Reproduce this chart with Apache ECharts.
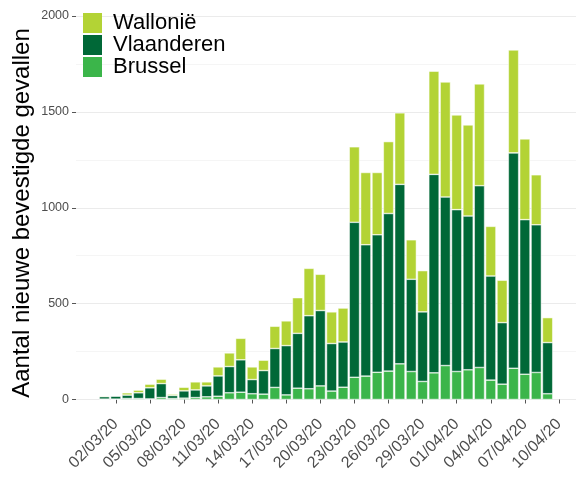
<!DOCTYPE html>
<html>
<head>
<meta charset="utf-8">
<script src="https://cdn.jsdelivr.net/npm/echarts@6/dist/echarts.min.js"></script>
<style>
html,body{margin:0;padding:0;background:#fff;}
#chart{width:581px;height:481px;}
</style>
</head>
<body>
<div id="chart"></div>
<script>
// Axis categories (days with data plus padding days on each side)
const padBefore = ['28/02/20', '29/02/20'];
const dates = [
  '01/03/20','02/03/20','03/03/20','04/03/20','05/03/20','06/03/20','07/03/20','08/03/20','09/03/20','10/03/20',
  '11/03/20','12/03/20','13/03/20','14/03/20','15/03/20','16/03/20','17/03/20','18/03/20','19/03/20','20/03/20',
  '21/03/20','22/03/20','23/03/20','24/03/20','25/03/20','26/03/20','27/03/20','28/03/20','29/03/20','30/03/20',
  '31/03/20','01/04/20','02/04/20','03/04/20','04/04/20','05/04/20','06/04/20','07/04/20','08/04/20','09/04/20'
];
const padAfter = ['10/04/20', '11/04/20'];
const tickLabels = ['02/03/20','05/03/20','08/03/20','11/03/20','14/03/20','17/03/20','20/03/20',
  '23/03/20','26/03/20','29/03/20','01/04/20','04/04/20','07/04/20','10/04/20'];

const brussel = [2,2,5,5,3,10,5,7,10,14, 17,35,38,30,28,63,24,59,56,71,
  44,64,116,122,142,148,186,146,94,139, 177,146,155,167,101,80,163,132,141,30];
const vlaanderen = [13,16,18,30,58,73,16,38,40,57, 106,137,169,74,123,203,257,286,381,393,
  248,236,808,685,717,822,936,481,363,1035, 879,844,802,948,543,321,1123,806,770,267];
const wallonie = [4,1,12,14,19,23,7,19,42,21, 47,71,112,66,54,116,129,186,247,189,
  165,177,394,377,325,375,373,206,215,538, 600,494,475,531,259,221,537,421,261,130];

const yTicks = [0, 500, 1000, 1500, 2000];
const yTitle = 'Aantal nieuwe bevestigde gevallen';

const categories = padBefore.concat(dates, padAfter);
function pad(arr) {
  return padBefore.map(() => null).concat(arr, padAfter.map(() => null));
}

const chart = echarts.init(document.getElementById('chart'), null, {renderer: 'canvas'});
const font = 'Liberation Sans, Arial, Helvetica, sans-serif';
const showTick = (idx) => tickLabels.indexOf(categories[idx]) >= 0;

const barStyle = (c) => ({color: c, borderColor: 'rgba(255,255,255,0.85)', borderWidth: 0.6});

chart.setOption({
  animation: false,
  textStyle: {fontFamily: font},
  grid: {left: 76, right: 5, top: 16, bottom: 81.5, containLabel: false},
  legend: {
    orient: 'vertical',
    left: 83, top: 12,
    padding: 0,
    itemWidth: 19, itemHeight: 20, itemGap: 0,
    icon: 'rect',
    data: ['Wallonië', 'Vlaanderen', 'Brussel'],
    textStyle: {fontSize: 22, lineHeight: 20, color: '#000', fontFamily: font, padding: [0,0,0,6]},
    itemStyle: {borderWidth: 0}
  },
  graphic: [{
    type: 'text',
    x: 22, y: 213,
    rotation: Math.PI / 2,
    style: {text: yTitle, fontSize: 24, fontFamily: font, fill: '#000', align: 'center', verticalAlign: 'middle'}
  }],
  xAxis: {
    type: 'category',
    data: categories,
    offset: 18,
    axisLine: {show: false},
    axisTick: {show: true, alignWithLabel: true, interval: showTick, length: 4, lineStyle: {color: '#555'}},
    axisLabel: {interval: showTick, rotate: 45, fontSize: 16, color: '#4D4D4D', margin: 4, fontFamily: font},
    splitLine: {show: false}
  },
  yAxis: {
    type: 'value',
    min: yTicks[0], max: yTicks[yTicks.length - 1], interval: 500,
    axisLine: {show: false},
    axisTick: {show: true, length: 4, lineStyle: {color: '#555'}},
    axisLabel: {fontSize: 12.5, color: '#4D4D4D', margin: 7, fontFamily: font, formatter: (v) => String(v)},
    splitLine: {show: true, lineStyle: {color: '#EBEBEB', width: 1}},
    minorTick: {show: false, splitNumber: 2},
    minorSplitLine: {show: true, lineStyle: {color: '#F2F2F2', width: 0.8}}
  },
  series: [
    {name: 'Brussel', type: 'bar', stack: 'total', data: pad(brussel), barWidth: '91%', itemStyle: barStyle('#3BB54A')},
    {name: 'Vlaanderen', type: 'bar', stack: 'total', data: pad(vlaanderen), barWidth: '91%', itemStyle: barStyle('#006837')},
    {name: 'Wallonië', type: 'bar', stack: 'total', data: pad(wallonie), barWidth: '91%', itemStyle: barStyle('#B3D335')}
  ]
});
</script>
</body>
</html>
